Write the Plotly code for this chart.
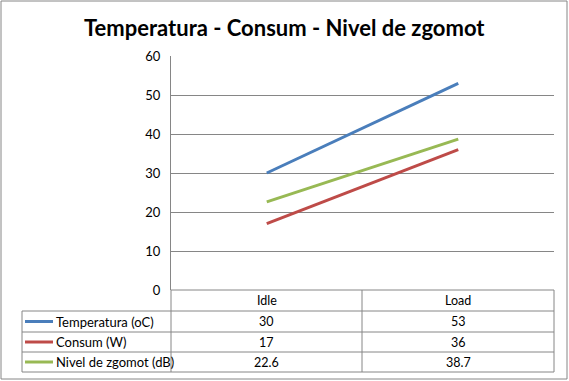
import plotly.graph_objects as go

categories = ["Idle", "Load"]
series_names = ["Temperatura (oC)", "Consum (W)", "Nivel de zgomot (dB)"]
temperatura = [30, 53]
consum = [17, 36]
zgomot = [22.6, 38.7]
value_labels = [["30", "53"], ["17", "36"], ["22.6", "38.7"]]
y_ticks = [0, 10, 20, 30, 40, 50, 60]

colors = ["#4A7EBB", "#BE4B48", "#98B954"]
series_values = [temperatura, consum, zgomot]

W, H = 569, 381
L, R, T, B = 171, 15, 56, 91
PW = W - L - R
PH = H - T - B
FONT = "Lato"
GRID = "#868686"


def px(x):
    return (x - L) / PW


def py(y):
    return (H - B - y) / PH


fig = go.Figure()
for name, vals, c in zip(series_names, series_values, colors):
    fig.add_trace(go.Scatter(x=categories, y=vals, mode="lines", name=name,
                             line=dict(color=c, width=3), showlegend=False,
                             hoverinfo="skip"))

shapes = []
annotations = []

# outer border
shapes.append(dict(type="rect", xref="paper", yref="paper",
                   x0=px(1), x1=px(567), y0=py(379), y1=py(1),
                   line=dict(color=GRID, width=1), layer="below"))

# table geometry (pixels)
row_y = [290, 311, 332, 352, 372]
tab_left, tab_mid, tab_right = 22, 362, 554

shapes.append(dict(type="line", xref="paper", yref="paper", x0=px(L), x1=px(tab_right),
                   y0=py(row_y[0]), y1=py(row_y[0]), line=dict(color=GRID, width=1)))
for yy in row_y[1:]:
    shapes.append(dict(type="line", xref="paper", yref="paper", x0=px(tab_left), x1=px(tab_right),
                       y0=py(yy), y1=py(yy), line=dict(color=GRID, width=1)))
shapes.append(dict(type="line", xref="paper", yref="paper", x0=px(tab_left), x1=px(tab_left),
                   y0=py(row_y[1]), y1=py(row_y[-1]), line=dict(color=GRID, width=1)))
for xx in [L, tab_mid, tab_right]:
    shapes.append(dict(type="line", xref="paper", yref="paper", x0=px(xx), x1=px(xx),
                       y0=py(row_y[0]), y1=py(row_y[-1]), line=dict(color=GRID, width=1)))

for cat in categories:
    annotations.append(dict(x=cat, xref="x", y=py((row_y[0] + row_y[1]) / 2), yref="paper",
                            text=cat, showarrow=False, xanchor="center", yanchor="middle",
                            font=dict(family=FONT, size=12.5, color="black")))

for i, (name, c) in enumerate(zip(series_names, colors)):
    yc = (row_y[i + 1] + row_y[i + 2]) / 2
    shapes.append(dict(type="line", xref="paper", yref="paper", x0=px(25), x1=px(53),
                       y0=py(yc), y1=py(yc), line=dict(color=c, width=3)))
    annotations.append(dict(x=px(54), xref="paper", y=py(yc), yref="paper", text=name,
                            showarrow=False, xanchor="left", yanchor="middle",
                            font=dict(family=FONT, size=13, color="black")))
    for j, cat in enumerate(categories):
        annotations.append(dict(x=cat, xref="x", y=py(yc), yref="paper",
                                text=value_labels[i][j], showarrow=False,
                                xanchor="center", yanchor="middle",
                                font=dict(family=FONT, size=12.5, color="black")))

annotations.append(dict(x=px(284.5), xref="paper", y=py(27), yref="paper",
                        text="<b>Temperatura - Consum - Nivel de zgomot</b>", showarrow=False,
                        xanchor="center", yanchor="middle",
                        font=dict(family=FONT, size=22, color="black")))

fig.update_layout(
    width=W, height=H,
    margin=dict(l=L, r=R, t=T, b=B),
    paper_bgcolor="white", plot_bgcolor="white",
    shapes=shapes, annotations=annotations,
    font=dict(family=FONT, size=12, color="black"),
    hovermode=False,
    xaxis=dict(type="category", range=[-0.5, 1.5], showticklabels=False, showgrid=False,
               zeroline=False, showline=False, fixedrange=True),
    yaxis=dict(range=[0, 60], tickvals=y_ticks, showgrid=True, gridcolor=GRID, gridwidth=1,
               showline=True, linecolor=GRID, linewidth=1, zeroline=False,
               ticks="", ticklabelstandoff=7, tickfont=dict(family=FONT, size=13, color="black"),
               fixedrange=True),
)

fig.write_html("out.html", config={"displayModeBar": False},
               post_script="document.body.style.margin='0';")
